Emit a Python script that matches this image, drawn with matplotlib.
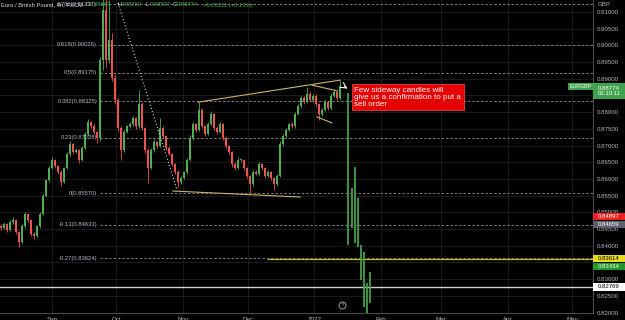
import pandas as pd
import matplotlib
matplotlib.use('Agg')
import matplotlib.pyplot as plt
import matplotlib.dates as mdates
import matplotlib.transforms as mtrans
from matplotlib.patches import Rectangle

plt.rcParams['font.family'] = ['Liberation Sans', 'DejaVu Sans']

# EURGBP candles (closes)
closes = [0.8453, 0.8465, 0.8447, 0.8471, 0.8477, 0.8441, 0.8411, 0.8459, 0.8495, 0.8477,
          0.8435, 0.8429, 0.8459, 0.8495, 0.8549, 0.8597, 0.8633, 0.8657, 0.8639, 0.8621,
          0.8591, 0.8633, 0.8675, 0.8705, 0.8681, 0.8687, 0.8657, 0.8693, 0.8735, 0.8771,
          0.8759, 0.8741, 0.8723, 0.8956, 0.9106, 0.8956, 0.9016, 0.8902, 0.8837, 0.8753,
          0.8687, 0.8741, 0.8759, 0.8765, 0.8783, 0.8759, 0.8825, 0.8753, 0.8687, 0.8633,
          0.8687, 0.8711, 0.8699, 0.8753, 0.8729, 0.8693, 0.8675, 0.8645, 0.8621, 0.8591,
          0.8603, 0.8621, 0.8657, 0.8723, 0.8765, 0.8747, 0.8807, 0.8759, 0.8735, 0.8765,
          0.8795, 0.8753, 0.8741, 0.8765, 0.8723, 0.8699, 0.8681, 0.8645, 0.8633, 0.8657,
          0.8657, 0.8633, 0.8609, 0.8585, 0.8621, 0.8615, 0.8645, 0.8633, 0.8609, 0.8621,
          0.8603, 0.8585, 0.8609, 0.8705, 0.8729, 0.8747, 0.8765, 0.8759, 0.8795, 0.8819,
          0.8843, 0.8831, 0.8855, 0.8837, 0.8849, 0.8825, 0.8795, 0.8807, 0.8831, 0.8813,
          0.8849, 0.8861, 0.8843, 0.8877]
first_open = 0.8460
# wick lengths in pips
hi_wick = [4, 6, 3, 5, 8, 4, 3, 6, 7, 4, 3, 5, 4, 6, 5, 4, 6, 8, 4, 3,
           5, 4, 6, 9, 4, 5, 3, 6, 5, 8, 4, 5, 3, 10, 54, 34, 119, 20, 8, 6,
           5, 7, 4, 6, 5, 3, 42, 5, 4, 6, 5, 8, 4, 30, 5, 4, 6, 3, 4, 5,
           6, 4, 5, 8, 6, 4, 24, 5, 4, 6, 8, 3, 5, 6, 4, 5, 3, 4, 6, 8,
           5, 4, 3, 4, 6, 5, 7, 4, 3, 5, 4, 3, 6, 8, 5, 6, 4, 5, 7, 6,
           5, 4, 20, 6, 5, 4, 3, 6, 5, 4, 8, 6, 5, 19]
lo_wick = [5, 4, 6, 3, 5, 6, 15, 4, 5, 6, 7, 10, 4, 5, 3, 4, 5, 3, 6, 5,
           11, 4, 3, 5, 6, 4, 9, 3, 4, 5, 6, 5, 15, 8, 30, 20, 10, 8, 12, 9,
           30, 5, 4, 6, 5, 8, 5, 6, 8, 45, 4, 6, 5, 4, 6, 5, 4, 7, 6, 15,
           5, 4, 6, 3, 5, 7, 4, 6, 5, 4, 3, 6, 5, 4, 7, 6, 5, 8, 6, 4,
           5, 6, 7, 27, 5, 4, 6, 5, 7, 4, 6, 18, 5, 4, 6, 5, 4, 6, 5, 4,
           6, 5, 4, 6, 5, 7, 18, 5, 4, 6, 5, 4, 7, 5]

# projected bars drawn after the last candle (bar index, high, low)
proj_idx = [115.8, 117, 118, 119, 120, 121, 122, 123]
proj_hi = [0.8858, 0.8573, 0.8636, 0.8543, 0.8402, 0.8381, 0.8289, 0.8322]
proj_lo = [0.8402, 0.8453, 0.8408, 0.8396, 0.8298, 0.8217, 0.8199, 0.8229]

# fibonacci retracement
fib_prices = [0.91237, 0.90026, 0.89175, 0.88325, 0.87228, 0.85570, 0.84633, 0.83624]
fib_labels = ['0.786(0.91237)', '0.618(0.90026)', '0.5(0.89175)', '0.382(0.88325)',
              '0.23(0.87228)', '0(0.85570)', '-0.13(0.84633)', '-0.27(0.83624)']
fib_start = 33

# trend lines: (bar index, price) pairs
trend_lines = [((65.7, 0.8830), (113.0, 0.8896)),
               ((57.3, 0.8564), (99.7, 0.8546)),
               ((103.7, 0.8881), (112.0, 0.8864)),
               ((105.3, 0.8786), (110.3, 0.8768))]
diag_line = ((39.0, 0.9127), (58.7, 0.8567))

yellow_level, yellow_start = 0.83614, 89
white_level = 0.82769

# right axis tags: price, where the tag sits, face, text colour
tags = [(0.84897, 0.84882, '#f01e1e', 'white'), (0.84659, 0.84641, '#5d606b', 'white'),
        (0.83614, 0.83614, '#e8dc1c', 'black'), (0.83434, 0.83380, '#1f9a2a', 'white'),
        (0.82769, 0.82769, '#ffffff', 'black')]
last_price, countdown = 0.88774, '02:10:11'
hidden_ticks = [0.885, 0.835]   # covered by tags in the screenshot

t0 = pd.Timestamp('2021-08-08 06:30')
step = pd.Timedelta(hours=33.5)


def bx(i):
    return mdates.date2num((t0 + step * i).to_pydatetime())


def month_label(v, pos):
    d = mdates.num2date(v)
    return str(d.year) if d.month == 1 else d.strftime('%b')


def price_label(v, pos):
    if any(abs(v - h) < 1e-6 for h in hidden_ticks):
        return ''
    return f'{v:.5f}'


up_c, dn_c = '#4caf50', '#ef5350'
bg = '#000000'
txt = '#b2b5be'
grid_c = '#1e1e1e'

fig = plt.figure(figsize=(6.25, 3.2), dpi=100, facecolor=bg)
ax = fig.add_axes([0, 7 / 320, 593 / 625, 313 / 320], facecolor=bg)

# candles
opens = [first_open] + closes[:-1]
for i, (o, c) in enumerate(zip(opens, closes)):
    col = up_c if c >= o else dn_c
    hi = max(o, c) + hi_wick[i] * 1e-4
    lo = min(o, c) - lo_wick[i] * 1e-4
    x = bx(i)
    ax.vlines(x, lo, hi, color=col, lw=0.6, zorder=3)
    h = max(abs(c - o), 0.00025)
    ax.bar(x, h, bottom=min(o, c), width=0.75, color=col, lw=0, zorder=4)

for i, h, l in zip(proj_idx, proj_hi, proj_lo):
    ax.vlines(bx(i), l, h, color='#43a047', lw=1.3, zorder=4)

# fib levels
x_end = bx(200)
for p, lab in zip(fib_prices, fib_labels):
    ax.plot([bx(fib_start), x_end], [p, p], color='#7c7c7c', lw=0.7,
            ls=(0, (2.5, 2)), zorder=2)
    ax.text(bx(fib_start - 1), p, lab, color=txt, fontsize=4.2, ha='right',
            va='center', zorder=6)

for (i1, p1), (i2, p2) in trend_lines:
    ax.plot([bx(i1), bx(i2)], [p1, p2], color='#c8b56a', lw=0.8, zorder=5)
(i1, p1), (i2, p2) = diag_line
ax.plot([bx(i1), bx(i2)], [p1, p2], color='#d0d0d0', lw=0.8,
        ls=(0, (1, 2)), zorder=5)

ax.plot([bx(yellow_start), x_end], [yellow_level] * 2, color='#c9b92a', lw=0.9, zorder=2)
ax.axhline(white_level, color='#cfcfcf', lw=1.0, zorder=2)

# note box
ax.annotate('', xy=(bx(116.3), 0.8866), xytext=(bx(113.7), 0.8881),
            arrowprops=dict(arrowstyle='->', color='white', lw=0.8), zorder=7)
ax.text(bx(117.8), 0.8876, 'Few sideway candles will\ngive us a confirmation to put a\nsell order',
        color='white', fontsize=5.8, ha='left', va='top', linespacing=1.0, zorder=8,
        bbox=dict(boxstyle='square,pad=0.3', fc='#e60000', ec='#ff4d4d', lw=0.5))

# event icon
ax.plot(bx(113.7), 0.8223, marker='o', ms=5, mfc='none', mec='#8a8a8a', mew=0.8, zorder=6)
ax.text(bx(113.7), 0.8223, '\u03df', color='#9a9a9a', fontsize=4, ha='center',
        va='center', zorder=7, family=['DejaVu Sans'])

# axes
ax.set_xlim(bx(-1 / 3), bx(197.33))
ax.set_ylim(0.81988, 0.91359)
ax.xaxis.set_major_locator(mdates.MonthLocator())
ax.xaxis.set_major_formatter(plt.FuncFormatter(month_label))
ax.yaxis.tick_right()
ax.set_yticks([0.82 + 0.005 * k for k in range(19)])
ax.yaxis.set_major_formatter(plt.FuncFormatter(price_label))
ax.tick_params(axis='y', length=0, labelsize=4.4, labelcolor=txt, pad=3)
ax.tick_params(axis='x', length=0, labelsize=4.5, labelcolor=txt, pad=3)
ax.grid(True, color=grid_c, lw=0.6, zorder=0)
for s in ['left', 'top']:
    ax.spines[s].set_visible(False)
for s in ['right', 'bottom']:
    ax.spines[s].set_color('#4a4a4a')
    ax.spines[s].set_linewidth(0.8)

# price tags on the axis: boxes filling the scale width
tr = mtrans.blended_transform_factory(ax.transAxes, ax.transData)
tag_w = 32 / 593
tag_h = 7.4 / 3340
for p, py, fc, tc in tags:
    ax.add_patch(Rectangle((1.0, py - tag_h / 2), tag_w, tag_h, transform=tr, fc=fc,
                           ec='none', clip_on=False, zorder=9))
    ax.text(1.0 + tag_w / 2, py, f'{p:.5f}', transform=tr, color=tc, fontsize=4.3,
            ha='center', va='center', clip_on=False, zorder=10)
lp_top, lp_bot = last_price + 0.0010, last_price - 0.0038
ax.add_patch(Rectangle((1.0, lp_bot), tag_w, lp_top - lp_bot, transform=tr, fc='#3fa34d',
                       ec='none', clip_on=False, zorder=9))
ax.text(1.0 + tag_w / 2, (lp_top + lp_bot) / 2, f'{last_price:.5f}\n{countdown}', transform=tr,
        color='white', fontsize=4.3, ha='center', va='center', clip_on=False,
        linespacing=1.15, zorder=10)
ax.text(0.997, last_price, 'EURGBP', transform=tr, color='white', fontsize=3.8,
        ha='right', va='center', zorder=9,
        bbox=dict(boxstyle='square,pad=0.25', fc='#3fa34d', ec='none'))
fig.text(598 / 625, 1 - 4 / 320, 'GBP', color=txt, fontsize=4.4, ha='left', va='center')

# legend line at top
ty = 1 - 5 / 320
fig.text(0.002, ty, 'Euro / British Pound, 4h, FXCM', color='#d1d4dc', fontsize=4.2, va='center')
ohlc = [('O', '0.88663', 86), ('H', '0.88760', 117), ('L', '0.88597', 146), ('C', '0.88774', 173)]
for k, v, px in ohlc:
    fig.text(px / 625, ty, k, color='#d1d4dc', fontsize=4.2, va='center')
    fig.text((px + 3.5) / 625, ty, v, color='#4caf50', fontsize=4.2, va='center')
fig.text(203 / 625, ty, '+0.00111 (+0.13%)', color='#4caf50', fontsize=4.2, va='center')

fig.savefig('out.png', dpi=100, facecolor=bg)
